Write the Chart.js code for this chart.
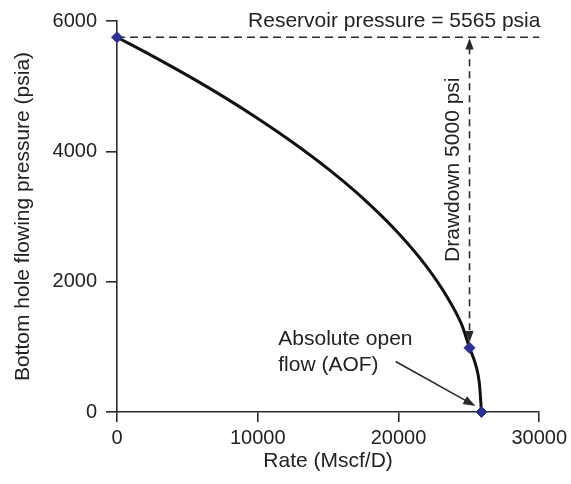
<!DOCTYPE html>
<html>
<head>
<meta charset="UTF-8">
<title>IPR curve</title>
<script src="https://cdn.jsdelivr.net/npm/chart.js"></script>
<style>
  html, body { margin: 0; background: #fff; }
</style>
</head>
<body>
<canvas id="ipr" width="571" height="484"></canvas>
<script>
// values
const rates     = [0, 2500, 5000, 7500, 10000, 12500, 15000, 17500, 20000, 22000, 23500, 24500, 25050, 25500, 25750, 25900];
const pressures = [5750, 5465, 5165, 4847, 4505, 4136, 3730, 3275, 2744, 2231, 1750, 1337, 985, 715, 440, 0];
const markerRates     = [0, 25050, 25900];
const markerPressures = [5750, 985, 0];
const xTicks = [0, 10000, 20000, 30000];
const yTicks = [0, 2000, 4000, 6000];

const reservoirPressure = 5750;
const drawdownRate = 25050;
const drawdownBottom = 1070;
const aofArrow = [19800, 774, 25470, 91];

const FONT = '"Liberation Sans", Arial, sans-serif';
const INK = '#2a2a2a';

function arrowHead(ctx, x1, y1, x2, y2, size) {
  const a = Math.atan2(y2 - y1, x2 - x1);
  ctx.beginPath();
  ctx.moveTo(x2, y2);
  ctx.lineTo(x2 - size * Math.cos(a - 0.35), y2 - size * Math.sin(a - 0.35));
  ctx.lineTo(x2 - size * Math.cos(a + 0.35), y2 - size * Math.sin(a + 0.35));
  ctx.closePath();
  ctx.fill();
}

const notes = {
  id: 'notes',
  beforeDatasetsDraw(chart) {
    const ctx = chart.ctx;
    const x = chart.scales.x, y = chart.scales.y;
    ctx.save();
    ctx.strokeStyle = INK;
    ctx.fillStyle = INK;
    ctx.lineWidth = 1.6;

    // reservoir pressure line
    const py = y.getPixelForValue(reservoirPressure);
    ctx.setLineDash([8, 5]);
    ctx.beginPath();
    ctx.moveTo(x.getPixelForValue(0), py);
    ctx.lineTo(x.getPixelForValue(30000), py);
    ctx.stroke();

    // drawdown arrow
    const dx = x.getPixelForValue(drawdownRate);
    const dBot = y.getPixelForValue(drawdownBottom);
    ctx.setLineDash([7, 5]);
    ctx.beginPath();
    ctx.moveTo(dx, py + 10);
    ctx.lineTo(dx, dBot - 10);
    ctx.stroke();
    ctx.setLineDash([]);
    arrowHead(ctx, dx, py + 20, dx, py + 1, 12);
    arrowHead(ctx, dx, dBot - 20, dx, dBot, 12);

    // AOF arrow
    const ax1 = x.getPixelForValue(aofArrow[0]), ay1 = y.getPixelForValue(aofArrow[1]);
    const ax2 = x.getPixelForValue(aofArrow[2]), ay2 = y.getPixelForValue(aofArrow[3]);
    const ang = Math.atan2(ay2 - ay1, ax2 - ax1);
    ctx.beginPath();
    ctx.moveTo(ax1, ay1);
    ctx.lineTo(ax2 - 8 * Math.cos(ang), ay2 - 8 * Math.sin(ang));
    ctx.stroke();
    arrowHead(ctx, ax1, ay1, ax2, ay2, 13);

    // labels
    ctx.fillStyle = '#222';
    ctx.font = '21px ' + FONT;
    ctx.textAlign = 'center';
    ctx.textBaseline = 'middle';
    ctx.fillText('Reservoir pressure = 5565 psia', x.getPixelForValue(19700), y.getPixelForValue(6000));

    ctx.save();
    ctx.translate(x.getPixelForValue(23920), y.getPixelForValue(3718));
    ctx.rotate(-Math.PI / 2);
    ctx.fillText('Drawdown 5000 psi', 0, 0);
    ctx.restore();

    ctx.textAlign = 'left';
    ctx.fillText('Absolute open', x.getPixelForValue(11460), y.getPixelForValue(1123));
    ctx.fillText('flow (AOF)', x.getPixelForValue(11460), y.getPixelForValue(713));
    ctx.restore();
  }
};

new Chart(document.getElementById('ipr'), {
  type: 'line',
  data: {
    datasets: [{
      data: markerRates.map((r, i) => ({ x: r, y: markerPressures[i] })),
      showLine: false,
      pointStyle: 'rectRot',
      pointRadius: 5.5,
      pointBackgroundColor: '#2e3192',
      pointBorderColor: '#2e3192',
      order: 0,
      clip: false
    }, {
      data: rates.map((r, i) => ({ x: r, y: pressures[i] })),
      borderColor: '#111',
      borderWidth: 3,
      pointRadius: 0,
      cubicInterpolationMode: 'monotone',
      order: 1,
      clip: false
    }]
  },
  options: {
    responsive: false,
    animation: false,
    layout: { padding: { left: 0, right: 28, top: 14, bottom: 0 } },
    plugins: { legend: { display: false }, tooltip: { enabled: false } },
    scales: {
      x: {
        type: 'linear',
        min: 0, max: 30000,
        afterBuildTicks: s => { s.ticks = xTicks.map(v => ({ value: v })); },
        afterFit: s => { s.height = 72; },
        grid: { drawOnChartArea: false, tickLength: 10, color: INK, lineWidth: 1.6 },
        border: { color: INK, width: 1.6 },
        ticks: { color: '#222', font: { family: FONT, size: 20 }, padding: 4, maxRotation: 0, callback: v => String(v) },
        title: { display: true, text: 'Rate (Mscf/D)', color: '#222', font: { family: FONT, size: 21 }, padding: { top: 0, bottom: 10 } }
      },
      y: {
        type: 'linear',
        min: 0, max: 6000,
        afterBuildTicks: s => { s.ticks = yTicks.map(v => ({ value: v })); },
        afterFit: s => { s.width = 117; },
        grid: { drawOnChartArea: false, tickLength: 11, color: INK, lineWidth: 1.6 },
        border: { color: INK, width: 1.6 },
        ticks: { color: '#222', font: { family: FONT, size: 20 }, padding: 9, callback: v => String(v) },
        title: { display: true, text: 'Bottom hole flowing pressure (psia)', color: '#222', font: { family: FONT, size: 21 }, padding: { top: 11 } }
      }
    }
  },
  plugins: [notes]
});
</script>
</body>
</html>
